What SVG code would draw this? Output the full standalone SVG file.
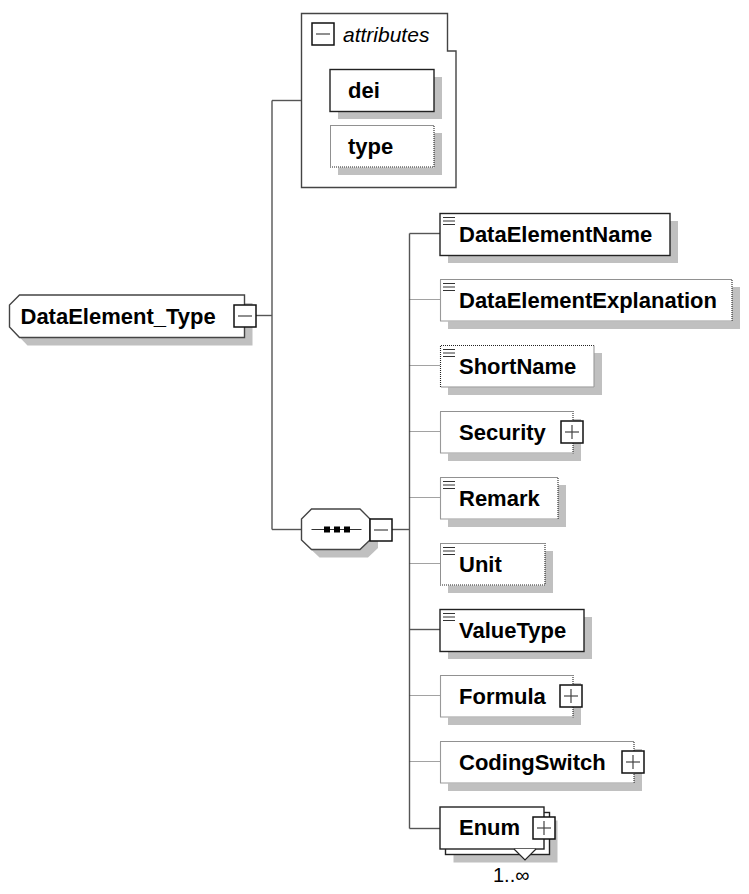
<svg xmlns="http://www.w3.org/2000/svg" width="749" height="894" viewBox="0 0 749 894">
<style>
.bg{fill:#ffffff}
.sh{fill:#c0c0c0}
.box{fill:#ffffff;stroke:#222222;stroke-width:1.4}
.fill{fill:#ffffff}
.dot{fill:none;stroke:#222222;stroke-width:1.1;stroke-dasharray:1 1}
.lite{fill:none;stroke:#999999;stroke-width:1.1}
.con{fill:none;stroke:#555555;stroke-width:1.4}
.cond{fill:none;stroke:#444444;stroke-width:1.1;stroke-dasharray:1 1}
.btn{fill:#ffffff;stroke:#111111;stroke-width:1.5}
.sign{stroke:#444444;stroke-width:1.2}
.ico{stroke:#333333;stroke-width:1}
.lbl{font-family:"Liberation Sans",Arial,sans-serif;font-weight:bold;font-size:22px;fill:#000000}
.it{font-family:"Liberation Sans",Arial,sans-serif;font-style:italic;font-size:21px;fill:#000000}
.occ{font-family:"Liberation Sans",Arial,sans-serif;font-size:20px;fill:#000000}
</style>
<rect class="bg" x="0" y="0" width="749" height="894"/>

<g id="connectors">
  <line class="con" x1="256" y1="315.5" x2="272" y2="315.5"/>
  <line class="con" x1="272" y1="100.5" x2="272" y2="529.5"/>
  <line class="con" x1="272" y1="100.5" x2="302" y2="100.5"/>
  <line class="con" x1="272" y1="529.5" x2="302" y2="529.5"/>
  <line class="con" x1="392" y1="529.5" x2="409.5" y2="529.5"/>
  <line class="con" x1="409.5" y1="233.5" x2="409.5" y2="828.5"/>
  <line class="con" x1="409.5" y1="233.5" x2="440" y2="233.5"/>
  <line class="cond" x1="409.5" y1="299.5" x2="440" y2="299.5"/>
  <line class="cond" x1="409.5" y1="365.5" x2="440" y2="365.5"/>
  <line class="cond" x1="409.5" y1="431.5" x2="440" y2="431.5"/>
  <line class="cond" x1="409.5" y1="497.5" x2="440" y2="497.5"/>
  <line class="cond" x1="409.5" y1="563.5" x2="440" y2="563.5"/>
  <line class="con" x1="409.5" y1="629.5" x2="440" y2="629.5"/>
  <line class="cond" x1="409.5" y1="695.5" x2="440" y2="695.5"/>
  <line class="cond" x1="409.5" y1="761.5" x2="440" y2="761.5"/>
  <line class="con" x1="409.5" y1="828.5" x2="440" y2="828.5"/>
</g>

<g id="DataElement_Type">
  <polygon class="sh" points="27.5,303 252.5,303 252.5,345.5 27.5,345.5 17.5,335 17.5,313"/>
  <polygon fill="#ffffff" stroke="#444444" stroke-width="1.4" points="19.5,295 244.5,295 244.5,337.5 19.5,337.5 9.5,327 9.5,305"/>
  <text class="lbl" x="20.5" y="323.5">DataElement_Type</text>
  <rect class="btn" x="234" y="305" width="22" height="22"/>
  <line class="sign" x1="238" y1="316" x2="252" y2="316"/>
</g>

<g id="attributes">
  <polygon fill="#ffffff" stroke="#444444" stroke-width="1.4" points="301.5,13.5 447.5,13.5 447.5,51 456,51 456,187.5 301.5,187.5"/>
  <rect class="btn" x="312" y="23" width="22" height="22"/>
  <line class="sign" x1="316" y1="34" x2="330" y2="34"/>
  <text class="it" x="343" y="41.5">attributes</text>
</g>

<g id="attr-dei">
  <rect class="sh" x="338" y="77" width="104" height="42"/>
  <rect class="box" x="330" y="69.5" width="104" height="42"/>
  <text class="lbl" x="348" y="97.5">dei</text>
</g>

<g id="attr-type">
  <rect class="sh" x="338" y="133" width="104" height="42"/>
  <rect class="fill" x="330" y="125.5" width="104" height="42"/>
  <rect class="dot" x="330.5" y="125.5" width="103.5" height="41.5"/>
  <text class="lbl" x="348" y="153.5">type</text>
</g>

<g id="sequence">
  <polygon class="sh" points="319.5,517 368,517 378,527 378,548 368,557.5 319.5,557.5 309.5,548 309.5,527"/>
  <polygon fill="#ffffff" stroke="#444444" stroke-width="1.4" points="311.5,509 360,509 370,519 370,540 360,549.5 311.5,549.5 301.5,540 301.5,519"/>
  <line stroke="#333333" stroke-width="1.2" x1="311.5" y1="529.5" x2="361.5" y2="529.5"/>
  <rect x="324" y="526.5" width="6" height="6" fill="#000000"/>
  <rect x="334" y="526.5" width="6" height="6" fill="#000000"/>
  <rect x="344" y="526.5" width="6" height="6" fill="#000000"/>
  <rect class="btn" x="370" y="519" width="22" height="22"/>
  <line class="sign" x1="374" y1="530" x2="388" y2="530"/>
</g>

<g id="DataElementName">
  <rect class="sh" x="448" y="221" width="230" height="42"/>
  <rect class="box" x="440" y="213.5" width="230" height="42"/>
  <line class="ico" x1="443" y1="217.5" x2="455" y2="217.5"/>
  <line class="ico" x1="443" y1="221" x2="455" y2="221"/>
  <line class="ico" x1="443" y1="224.5" x2="455" y2="224.5"/>
  <text class="lbl" x="459" y="241.5">DataElementName</text>
</g>

<g id="DataElementExplanation">
  <rect class="sh" x="448" y="287" width="292" height="42"/>
  <rect class="fill" x="440" y="279.5" width="292" height="42"/>
  <polyline class="dot" points="440.5,279.5 732,279.5 732,321.5"/>
  <polyline class="lite" points="440.5,279.5 440.5,321 732,321"/>
  <line class="ico" x1="443" y1="283.5" x2="455" y2="283.5"/>
  <line class="ico" x1="443" y1="287" x2="455" y2="287"/>
  <line class="ico" x1="443" y1="290.5" x2="455" y2="290.5"/>
  <text class="lbl" x="459" y="307.5">DataElementExplanation</text>
</g>

<g id="ShortName">
  <rect class="sh" x="448" y="353" width="154" height="42"/>
  <rect class="fill" x="440" y="345.5" width="154" height="42"/>
  <polyline class="dot" points="594,345.5 440.5,345.5 440.5,387 594,387"/>
  <line class="lite" x1="594" y1="345.5" x2="594" y2="387"/>
  <line class="ico" x1="443" y1="349.5" x2="455" y2="349.5"/>
  <line class="ico" x1="443" y1="353" x2="455" y2="353"/>
  <line class="ico" x1="443" y1="356.5" x2="455" y2="356.5"/>
  <text class="lbl" x="459" y="373.5">ShortName</text>
</g>

<g id="Security">
  <rect class="sh" x="448" y="419" width="133" height="42"/>
  <rect class="fill" x="440" y="411.5" width="133" height="42"/>
  <polyline class="dot" points="440.5,411.5 573,411.5 573,453.5"/>
  <polyline class="lite" points="440.5,411.5 440.5,453 573,453"/>
  <text class="lbl" x="459" y="439.5">Security</text>
  <rect class="btn" x="561" y="421" width="22" height="22"/>
  <line class="sign" x1="565" y1="432" x2="579" y2="432"/>
  <line class="sign" x1="572" y1="425" x2="572" y2="439"/>
</g>

<g id="Remark">
  <rect class="sh" x="448" y="485" width="118" height="42"/>
  <rect class="fill" x="440" y="477.5" width="118" height="42"/>
  <polyline class="dot" points="440.5,477.5 558,477.5 558,519.5"/>
  <polyline class="lite" points="440.5,477.5 440.5,519 558,519"/>
  <line class="ico" x1="443" y1="481.5" x2="455" y2="481.5"/>
  <line class="ico" x1="443" y1="485" x2="455" y2="485"/>
  <line class="ico" x1="443" y1="488.5" x2="455" y2="488.5"/>
  <text class="lbl" x="459" y="505.5">Remark</text>
</g>

<g id="Unit">
  <rect class="sh" x="448" y="551" width="105" height="42"/>
  <rect class="fill" x="440" y="543.5" width="105" height="42"/>
  <rect class="dot" x="440.5" y="543.5" width="104.5" height="41.5"/>
  <line class="ico" x1="443" y1="547.5" x2="455" y2="547.5"/>
  <line class="ico" x1="443" y1="551" x2="455" y2="551"/>
  <line class="ico" x1="443" y1="554.5" x2="455" y2="554.5"/>
  <text class="lbl" x="459" y="571.5">Unit</text>
</g>

<g id="ValueType">
  <rect class="sh" x="448" y="617" width="144" height="42"/>
  <rect class="box" x="440" y="609.5" width="144" height="42"/>
  <line class="ico" x1="443" y1="613.5" x2="455" y2="613.5"/>
  <line class="ico" x1="443" y1="617" x2="455" y2="617"/>
  <line class="ico" x1="443" y1="620.5" x2="455" y2="620.5"/>
  <text class="lbl" x="459" y="637.5">ValueType</text>
</g>

<g id="Formula">
  <rect class="sh" x="448" y="683" width="133" height="42"/>
  <rect class="fill" x="440" y="675.5" width="133" height="42"/>
  <polyline class="dot" points="440.5,675.5 573,675.5 573,717.5"/>
  <polyline class="lite" points="440.5,675.5 440.5,717 573,717"/>
  <text class="lbl" x="459" y="703.5">Formula</text>
  <rect class="btn" x="560" y="685" width="22" height="22"/>
  <line class="sign" x1="564" y1="696" x2="578" y2="696"/>
  <line class="sign" x1="571" y1="689" x2="571" y2="703"/>
</g>

<g id="CodingSwitch">
  <rect class="sh" x="448" y="749" width="194" height="42"/>
  <rect class="fill" x="440" y="741.5" width="194" height="42"/>
  <polyline class="dot" points="440.5,741.5 634,741.5 634,783.5"/>
  <polyline class="lite" points="440.5,741.5 440.5,783 634,783"/>
  <text class="lbl" x="459" y="769.5">CodingSwitch</text>
  <rect class="btn" x="622" y="751" width="22" height="22"/>
  <line class="sign" x1="626" y1="762" x2="640" y2="762"/>
  <line class="sign" x1="633" y1="755" x2="633" y2="769"/>
</g>

<g id="Enum">
  <rect class="sh" x="453.5" y="820.5" width="104" height="42"/>
  <rect class="box" x="445.5" y="812.5" width="104" height="42"/>
  <rect class="box" x="440" y="807" width="104" height="42"/>
  <polyline fill="#ffffff" stroke="#222222" stroke-width="1.2" points="514,849 525,860 536,849"/>
  <text class="lbl" x="459" y="835">Enum</text>
  <rect class="btn" x="533" y="817" width="22" height="22"/>
  <line class="sign" x1="537" y1="828" x2="551" y2="828"/>
  <line class="sign" x1="544" y1="821" x2="544" y2="835"/>
  <text class="occ" x="493" y="882">1..∞</text>
</g>
</svg>
